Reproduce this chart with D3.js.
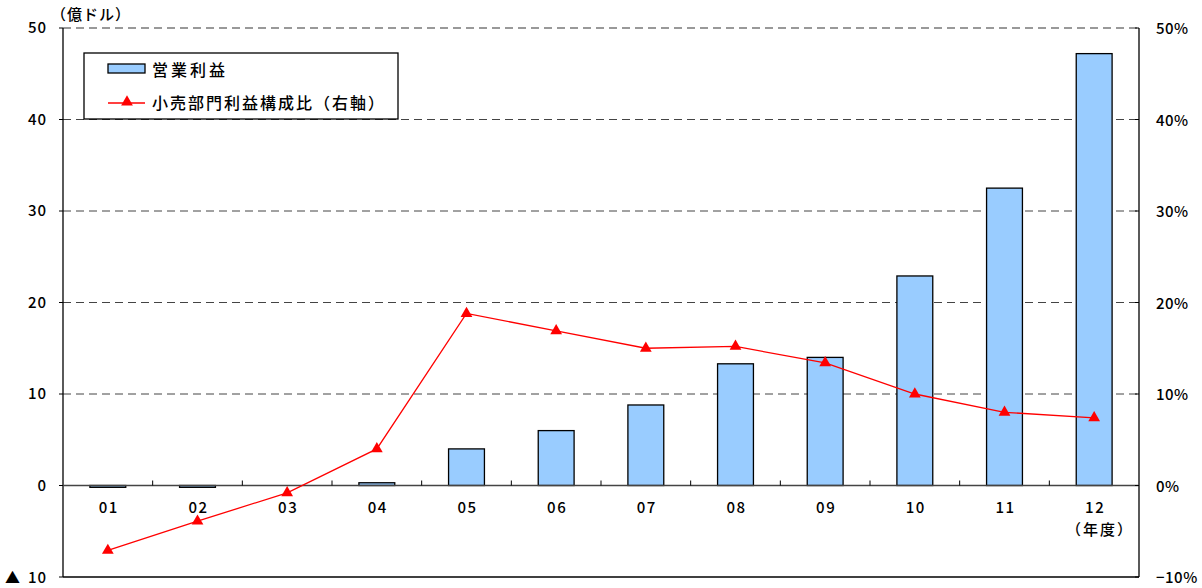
<!DOCTYPE html>
<html><head><meta charset="utf-8">
<script src="https://cdn.jsdelivr.net/npm/d3@7"></script>
<style>
body{margin:0;background:#fff;}
svg text{font-family:"Noto Sans CJK JP","Liberation Sans",sans-serif;fill:#000;font-weight:500;}
</style></head>
<body><svg id="c" width="1202" height="588"></svg>
<script>
// Fiscal years
const years = ["01","02","03","04","05","06","07","08","09","10","11","12"];
// Operating profit (100 million USD)
const profit = [-0.2,-0.2,0,0.3,4.0,6.0,8.8,13.3,14.0,22.9,32.5,47.2];
// Retail segment share of profit (%), right axis
const retailShare = [-7.1,-3.9,-0.8,4.0,18.8,16.9,15.0,15.2,13.4,10.0,8.0,7.4];
// Axis tick values
const leftTicks = [-10,0,10,20,30,40,50];
const rightTicks = [-10,0,10,20,30,40,50];

const svg = d3.select("#c");
const L = 63, R = 1139, T = 28, B = 577;

const x = d3.scaleBand().domain(years).range([L, R]).paddingInner(0.6).paddingOuter(0.3);
const xs = d3.scaleBand().domain(years).range([L, R]);
const y = d3.scaleLinear().domain([-10, 50]).range([B, T]);
const y2 = d3.scaleLinear().domain([-10, 50]).range([B, T]);

// Gridlines
svg.append("g").selectAll("line").data([10,20,30,40]).join("line")
  .attr("x1", L).attr("x2", R).attr("y1", d => y(d)).attr("y2", d => y(d))
  .attr("stroke", "#444").attr("stroke-width", 1).attr("stroke-dasharray", "8,5");
svg.append("line").attr("x1", L).attr("x2", R).attr("y1", y(50)).attr("y2", y(50))
  .attr("stroke", "#999").attr("stroke-width", 2).attr("stroke-dasharray", "8,5");

// Bars
svg.append("g").selectAll("rect").data(profit).join("rect")
  .attr("x", (d, i) => x(years[i]))
  .attr("width", x.bandwidth())
  .attr("y", d => d >= 0 ? y(d) : y(0))
  .attr("height", d => Math.abs(y(d) - y(0)))
  .attr("fill", "#99ccff").attr("stroke", "#000").attr("stroke-width", 1.3);

// Frame: left axis, right axis, bottom line, zero line
svg.append("line").attr("x1", L).attr("x2", L).attr("y1", T).attr("y2", B).attr("stroke", "#000").attr("stroke-width", 1.3);
svg.append("line").attr("x1", R).attr("x2", R).attr("y1", T).attr("y2", B).attr("stroke", "#000").attr("stroke-width", 1.3);
svg.append("line").attr("x1", L).attr("x2", R).attr("y1", B).attr("y2", B).attr("stroke", "#000").attr("stroke-width", 1.3);
svg.append("line").attr("x1", L).attr("x2", R).attr("y1", y(0)).attr("y2", y(0)).attr("stroke", "#444").attr("stroke-width", 1.3);

// Category separators on the zero line
svg.append("g").selectAll("line").data(years.slice(1)).join("line")
  .attr("x1", d => xs(d)).attr("x2", d => xs(d))
  .attr("y1", y(0) - 5).attr("y2", y(0)).attr("stroke", "#000");

// Axis ticks
svg.append("g").selectAll("line").data(leftTicks).join("line")
  .attr("x1", L - 4).attr("x2", L).attr("y1", d => y(d)).attr("y2", d => y(d)).attr("stroke", "#000");
svg.append("g").selectAll("line").data(rightTicks).join("line")
  .attr("x1", R - 4).attr("x2", R).attr("y1", d => y2(d)).attr("y2", d => y2(d)).attr("stroke", "#000");

// Left axis labels
svg.append("g").selectAll("text").data(leftTicks.filter(d => d >= 0)).join("text")
  .attr("x", 47).attr("y", d => y(d) + 5).attr("text-anchor", "end")
  .attr("font-size", 15).attr("letter-spacing", 1)
  .text(d => d);
svg.append("text").attr("x", 5).attr("y", y(-10) + 6).attr("font-size", 15).text("▲");
svg.append("text").attr("x", 47).attr("y", y(-10) + 6).attr("text-anchor", "end")
  .attr("font-size", 15).attr("letter-spacing", 1).text(Math.abs(leftTicks[0]));

// Right axis labels
svg.append("g").selectAll("text").data(rightTicks).join("text")
  .attr("x", 1156).attr("y", d => y2(d) + 6).attr("text-anchor", "start")
  .attr("font-size", 15).attr("letter-spacing", 0.5)
  .text(d => (d < 0 ? "−" + Math.abs(d) : d) + "%");

// Category labels
svg.append("g").selectAll("text").data(years).join("text")
  .attr("x", d => xs(d) + xs.bandwidth() / 2 + 1).attr("y", 513).attr("text-anchor", "middle")
  .attr("font-size", 15).attr("letter-spacing", 1.5)
  .text(d => d);

svg.append("text").attr("x", 1100).attr("y", 535).attr("text-anchor", "middle")
  .attr("font-size", 15).attr("letter-spacing", 2).text("（年度）");
svg.append("text").attr("x", 91).attr("y", 20).attr("text-anchor", "middle")
  .attr("font-size", 15).attr("letter-spacing", 1).text("（億ドル）");

// Line series
const line = d3.line().x((d, i) => xs(years[i]) + xs.bandwidth() / 2).y(d => y2(d));
svg.append("path").datum(retailShare).attr("d", line)
  .attr("fill", "none").attr("stroke", "#ff0000").attr("stroke-width", 1.3);
const tri = d3.symbol().type(d3.symbolTriangle).size(60);
svg.append("g").selectAll("path").data(retailShare).join("path")
  .attr("d", tri)
  .attr("transform", (d, i) => `translate(${xs(years[i]) + xs.bandwidth() / 2},${y2(d)})`)
  .attr("fill", "#ff0000");

// Legend
const lg = svg.append("g");
lg.append("rect").attr("x", 84).attr("y", 53).attr("width", 314).attr("height", 66)
  .attr("fill", "#fff").attr("stroke", "#000").attr("stroke-width", 1.3);
lg.append("rect").attr("x", 108).attr("y", 64).attr("width", 37).attr("height", 9)
  .attr("fill", "#99ccff").attr("stroke", "#000").attr("stroke-width", 1.3);
lg.append("text").attr("x", 152).attr("y", 76).attr("font-size", 16).attr("letter-spacing", 3).text("営業利益");
lg.append("line").attr("x1", 108).attr("x2", 145).attr("y1", 103).attr("y2", 103)
  .attr("stroke", "#ff0000").attr("stroke-width", 1.3);
lg.append("path").attr("d", tri).attr("transform", "translate(127,102)").attr("fill", "#ff0000");
lg.append("text").attr("x", 152).attr("y", 109).attr("font-size", 16).attr("letter-spacing", 2).text("小売部門利益構成比（右軸）");
</script></body></html>
